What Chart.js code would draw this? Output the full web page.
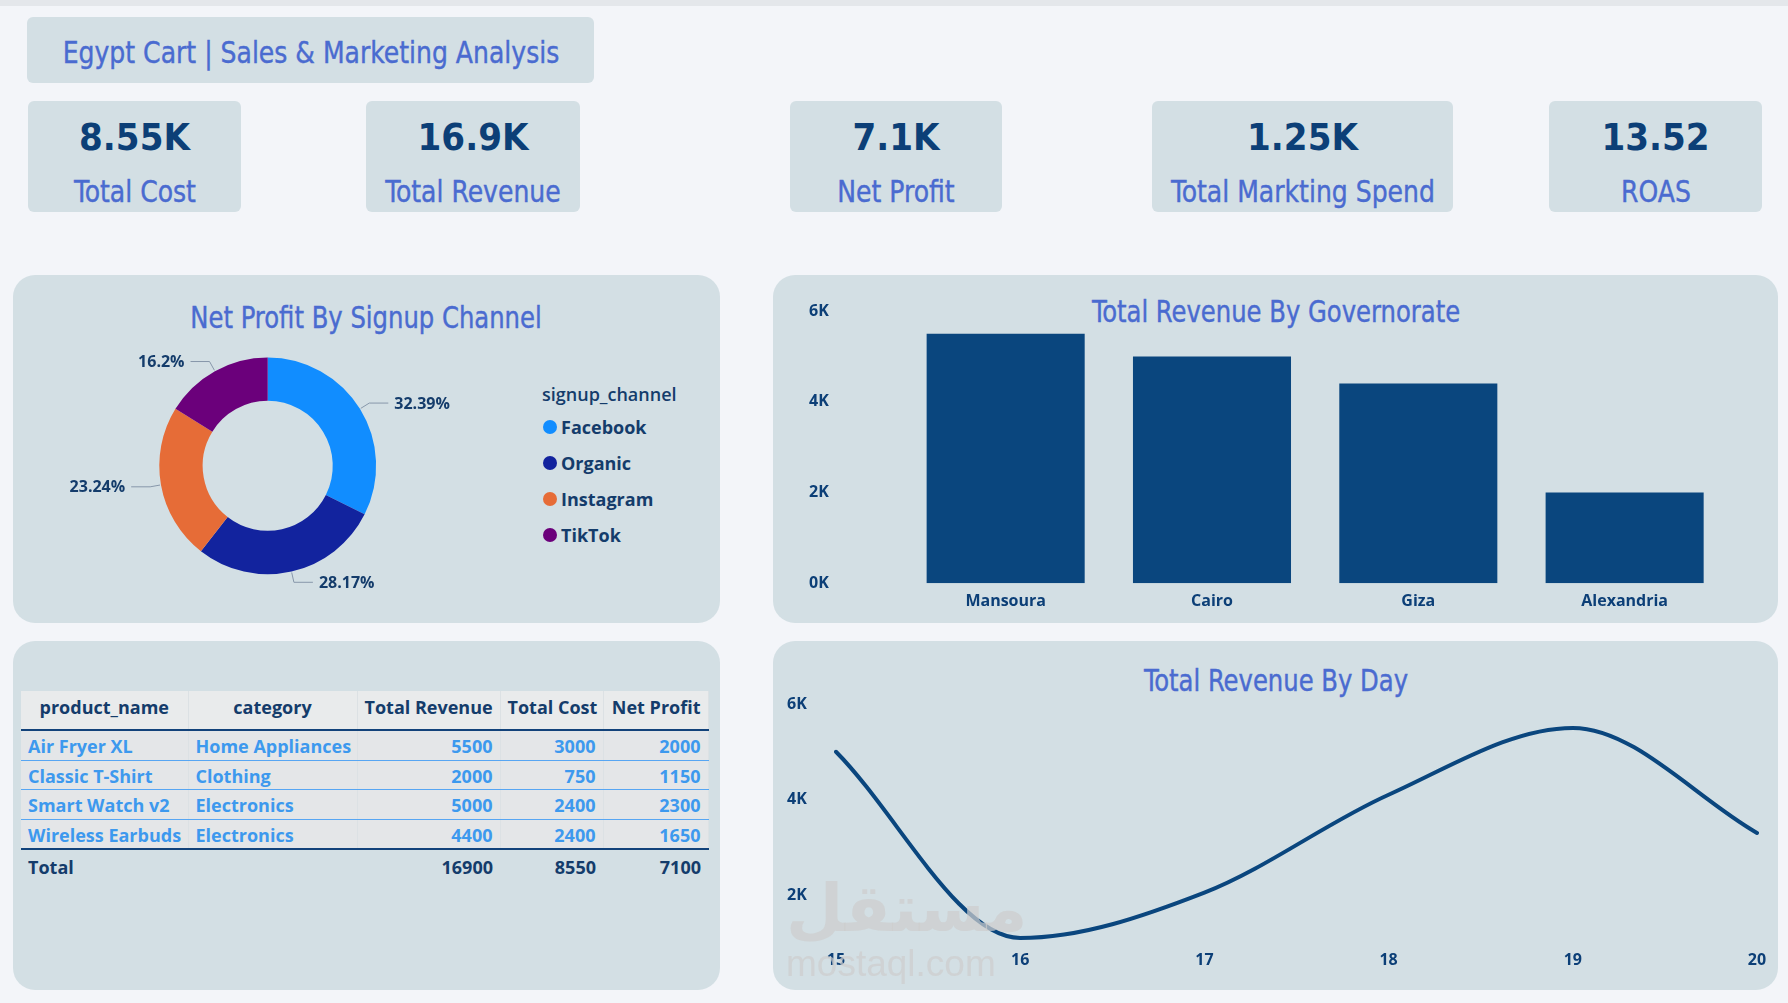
<!DOCTYPE html>
<html>
<head>
<meta charset="utf-8">
<script src="https://cdn.jsdelivr.net/npm/chart.js@4.4.1/dist/chart.umd.min.js"></script>
<style>
  html, body { margin: 0; padding: 0; }
  body { width: 1788px; height: 1003px; background: #F3F5F9; position: relative; overflow: hidden; font-family: 'Open Sans', sans-serif; }
  .strip { position: absolute; left: 0; top: 0; width: 1788px; height: 6px; background: #E4E7EB; }
  .box { position: absolute; background: #D3DFE4; }
  .panel { border-radius: 22px; }
  .card { border-radius: 6px; }
  .din { font-family: 'DejaVu Sans Condensed', 'DejaVu Sans', sans-serif; }
  .c { position: absolute; transform: translate(-50%, -50%); white-space: nowrap; line-height: 1; }
  .c.nar { transform: translate(-50%, -50%) scaleX(0.9); -webkit-text-stroke: 0.4px currentColor; }
  .title { color: #4A6BD0; font-size: 30px; }
  .kval { color: #0C3F77; font-size: 38px; font-weight: bold; }
  .klab { color: #4A6BD0; font-size: 31px; }
  .wrap { position: absolute; }
  .legend { position: absolute; left: 542px; top: 379px; color: #143C6B; }
  .legend .lt { font-weight: 600; font-size: 18px; height: 30px; line-height: 30px; }
  .legend .li { font-weight: bold; font-size: 18px; height: 36px; line-height: 36px; position: relative; padding-left: 19px; }
  .legend .dot { position: absolute; left: 1px; top: 11px; width: 14px; height: 14px; border-radius: 50%; }
  table { position: absolute; left: 21px; top: 691px; width: 687px; border-collapse: collapse; table-layout: fixed; font-size: 18px; font-weight: bold; }
  th { color: #143C6B; background: #E9EBEC; height: 32px; padding: 0 7px 6px; border-bottom: 2px solid #12427A; font-weight: bold; border-right: 1px solid #DCE1E4; white-space: nowrap; }
  td { padding: 0 7px; white-space: nowrap; border-right: 1px solid #DCE1E4; }
  tbody tr td { background: #E4E6E8; color: #3D99EE; height: 26.5px; padding-top: 2px; border-bottom: 1.5px solid #57A6F3; }
  tbody tr:last-child td { border-bottom: 2px solid #12427A; }
  tfoot td { color: #143C6B; height: 34px; border-right: none; }
  .num { text-align: right; }
  .wm { position: absolute; color: rgba(205,205,205,0.72); pointer-events: none; white-space: nowrap; line-height: 1; }
</style>
</head>
<body>
<div class="strip"></div>

<div class="box card" style="left:27px;top:17px;width:567px;height:66px;"></div>
<div class="c nar din" style="left:311px;top:52px;color:#4A6BD0;font-size:31px;">Egypt Cart | Sales &amp; Marketing Analysis</div>

<div id="kpis"></div>

<div class="box panel" style="left:13px;top:275px;width:707px;height:348px;"></div>
<div class="box panel" style="left:773px;top:275px;width:1005px;height:348px;"></div>
<div class="box panel" style="left:13px;top:641px;width:707px;height:349px;"></div>
<div class="box panel" style="left:773px;top:641px;width:1005px;height:349px;"></div>

<div class="c nar din title" style="left:366px;top:318px;">Net Profit By Signup Channel</div>
<div class="c nar din title" style="left:1276px;top:312px;">Total Revenue By Governorate</div>
<div class="c nar din title" style="left:1276px;top:681px;">Total Revenue By Day</div>

<div class="wrap" style="left:40px;top:330px;width:440px;height:290px;"><canvas id="donut"></canvas></div>
<div class="legend" id="legend"></div>

<div class="wrap" style="left:790px;top:290px;width:980px;height:330px;"><canvas id="bars"></canvas></div>

<table id="tbl"></table>

<div class="wrap" style="left:780px;top:690px;width:1000px;height:285px;"><canvas id="line"></canvas></div>

<div class="wm" style="left:786px;top:876px;font-family:'DejaVu Sans',sans-serif;font-weight:bold;font-size:66px;">مستقل</div>
<div class="wm" style="left:786px;top:945px;font-family:'Liberation Sans',sans-serif;font-size:37px;">mostaql.com</div>

<script>
const channelLabels = ['Facebook', 'Organic', 'Instagram', 'TikTok'];
const channelProfit = [2300, 2000, 1650, 1150];
const channelColors = ['#118DFF', '#12239E', '#E66C37', '#6B007B'];

const governorates = ['Mansoura', 'Cairo', 'Giza', 'Alexandria'];
const govRevenue = [5500, 5000, 4400, 2000];
const govTicks = [0, 2000, 4000, 6000];

const days = ['15', '16', '17', '18', '19', '20'];
const dayRevenue = [5000, 1100, 2050, 4100, 5500, 3300];
const dayTicks = [2000, 4000, 6000];

const products = ['Air Fryer XL', 'Classic T-Shirt', 'Smart Watch v2', 'Wireless Earbuds'];
const categories = ['Home Appliances', 'Clothing', 'Electronics', 'Electronics'];
const productRevenue = [5500, 2000, 5000, 4400];
const productCost = [3000, 750, 2400, 2400];
const productProfit = [2000, 1150, 2300, 1650];
const marketingSpend = 1250;

const NAVY = '#0C3F77';
const BAR = '#0A467E';

const sum = a => a.reduce((s, v) => s + v, 0);
const fmtK = v => +(v / 1000).toFixed(2) + 'K';

// KPI cards
const totRev = sum(productRevenue), totCost = sum(productCost), totProfit = sum(productProfit);
const kpiLabels = ['Total Cost', 'Total Revenue', 'Net Profit', 'Total Markting Spend', 'ROAS'];
const kpiValues = [fmtK(totCost), fmtK(totRev), fmtK(totProfit), fmtK(marketingSpend), (totRev / marketingSpend).toFixed(2)];
const cardX = [[28, 241], [366, 580], [790, 1002], [1152, 1453], [1549, 1762]];
let kh = '';
kpiLabels.forEach((lab, i) => {
  const [a, b] = cardX[i];
  const cx = (a + b) / 2;
  kh += `<div class="box card" style="left:${a}px;top:101px;width:${b - a}px;height:111px;"></div>`;
  kh += `<div class="c din kval" style="left:${cx}px;top:137px;">${kpiValues[i]}</div>`;
  kh += `<div class="c nar din klab" style="left:${cx}px;top:191px;">${lab}</div>`;
});
document.getElementById('kpis').innerHTML = kh;

// legend
let lh = '<div class="lt">signup_channel</div>';
channelLabels.forEach((l, i) => {
  lh += `<div class="li"><span class="dot" style="background:${channelColors[i]}"></span>${l}</div>`;
});
document.getElementById('legend').innerHTML = lh;

// table
const colW = [167, 169, 143, 103, 105];
let th = '<colgroup>' + colW.map(w => `<col style="width:${w}px">`).join('') + '</colgroup>';
th += '<thead><tr><th>product_name</th><th>category</th><th class="num">Total Revenue</th><th class="num">Total Cost</th><th class="num">Net Profit</th></tr></thead><tbody>';
products.forEach((p, i) => {
  th += `<tr><td>${p}</td><td>${categories[i]}</td><td class="num">${productRevenue[i]}</td><td class="num">${productCost[i]}</td><td class="num">${productProfit[i]}</td></tr>`;
});
th += `</tbody><tfoot><tr><td>Total</td><td></td><td class="num">${totRev}</td><td class="num">${totCost}</td><td class="num">${totProfit}</td></tr></tfoot>`;
document.getElementById('tbl').innerHTML = th;

Chart.defaults.font.family = "'Open Sans', sans-serif";
Chart.defaults.animation = false;

// donut with leader labels
const leaderLabels = {
  id: 'leaderLabels',
  afterDatasetsDraw(chart) {
    const ctx = chart.ctx;
    const meta = chart.getDatasetMeta(0);
    const total = sum(channelProfit);
    ctx.save();
    ctx.font = "bold 16px 'Open Sans'";
    ctx.textBaseline = 'middle';
    meta.data.forEach((arc, i) => {
      const { x, y, startAngle, endAngle, outerRadius } = arc.getProps(['x', 'y', 'startAngle', 'endAngle', 'outerRadius'], true);
      const mid = (startAngle + endAngle) / 2;
      const cs = Math.cos(mid), sn = Math.sin(mid);
      const side = cs >= 0 ? 1 : -1;
      const x1 = x + cs * (outerRadius + 11), y1 = y + sn * (outerRadius + 11);
      const x2 = x1 + side * 19;
      ctx.strokeStyle = '#8797AA';
      ctx.lineWidth = 1;
      ctx.beginPath();
      ctx.moveTo(x + cs * (outerRadius + 1), y + sn * (outerRadius + 1));
      ctx.lineTo(x1, y1);
      ctx.lineTo(x2, y1);
      ctx.stroke();
      ctx.fillStyle = '#143C6B';
      ctx.textAlign = side > 0 ? 'left' : 'right';
      ctx.fillText(+(channelProfit[i] / total * 100).toFixed(2) + '%', x2 + side * 6, y1 + 1);
    });
    ctx.restore();
  }
};

new Chart(document.getElementById('donut'), {
  type: 'doughnut',
  data: {
    labels: channelLabels,
    datasets: [{ data: channelProfit, backgroundColor: channelColors, borderWidth: 0, hoverOffset: 0, offset: 0 }]
  },
  options: {
    responsive: true,
    maintainAspectRatio: false,
    cutout: '60%',
    layout: { padding: { left: 119.3, right: 103.9, top: 27.4, bottom: 45.8 } },
    plugins: { legend: { display: false }, tooltip: { enabled: false } }
  },
  plugins: [leaderLabels]
});

const tickFont = { size: 16, weight: 'bold' };

new Chart(document.getElementById('bars'), {
  type: 'bar',
  data: {
    labels: governorates,
    datasets: [{ data: govRevenue, backgroundColor: BAR, categoryPercentage: 1, barPercentage: 0.766 }]
  },
  options: {
    responsive: true,
    maintainAspectRatio: false,
    layout: { padding: { left: 19, right: 42.2, top: 21, bottom: 0 } },
    plugins: { legend: { display: false }, tooltip: { enabled: false } },
    scales: {
      x: {
        grid: { display: false }, border: { display: false },
        ticks: { color: NAVY, font: tickFont, padding: 1 },
        afterFit: s => { s.height = 36.7; }
      },
      y: {
        min: 0, max: 6000,
        grid: { display: false }, border: { display: false },
        afterBuildTicks: s => { s.ticks = govTicks.map(v => ({ value: v })); },
        ticks: { color: NAVY, font: tickFont, crossAlign: 'far', callback: v => v / 1000 + 'K' },
        afterFit: s => { s.width = 93.5; }
      }
    }
  }
});

new Chart(document.getElementById('line'), {
  type: 'line',
  data: {
    labels: days,
    datasets: [{
      data: dayRevenue, borderColor: BAR, borderWidth: 4, pointRadius: 0,
      cubicInterpolationMode: 'monotone', borderCapStyle: 'round', fill: false
    }]
  },
  options: {
    responsive: true,
    maintainAspectRatio: false,
    layout: { padding: { left: 7, right: 23, top: 14, bottom: 0 } },
    plugins: { legend: { display: false }, tooltip: { enabled: false } },
    scales: {
      x: {
        grid: { display: false }, border: { display: false },
        ticks: { color: NAVY, font: tickFont, padding: 0, maxRotation: 0 },
        afterFit: s => { s.height = 32.25; }
      },
      y: {
        min: 1000, max: 6000,
        grid: { display: false }, border: { display: false },
        afterBuildTicks: s => { s.ticks = dayTicks.map(v => ({ value: v })); },
        ticks: { color: NAVY, font: tickFont, crossAlign: 'far', callback: v => v / 1000 + 'K' },
        afterFit: s => { s.width = 49; }
      }
    }
  }
});
</script>
</body>
</html>
